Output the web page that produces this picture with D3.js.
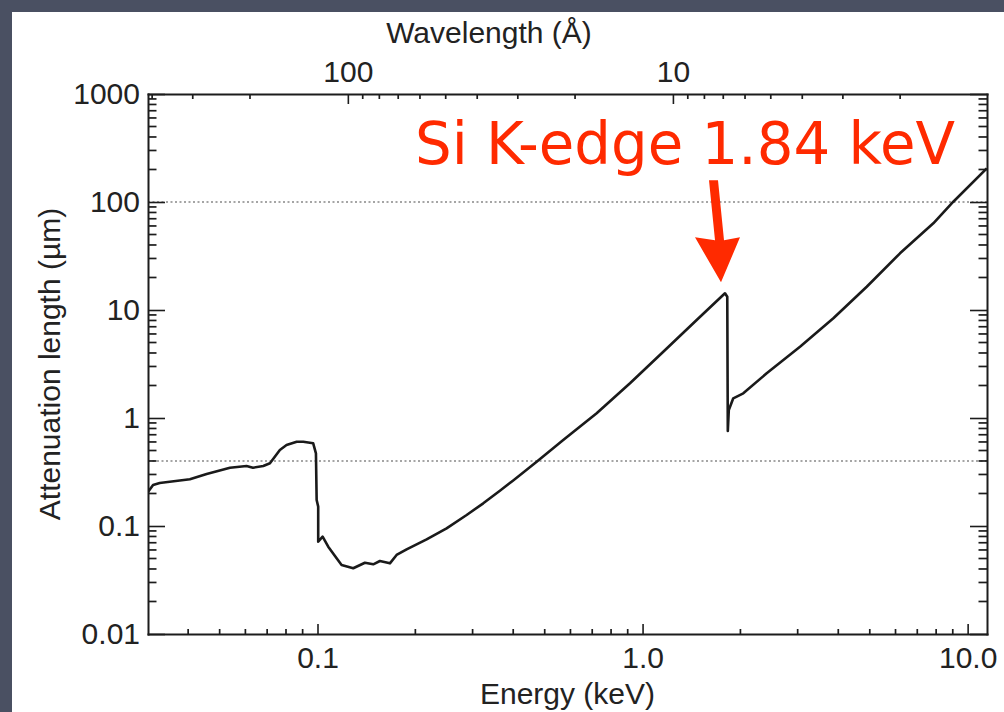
<!DOCTYPE html>
<html>
<head>
<meta charset="utf-8">
<script src="https://cdn.jsdelivr.net/npm/d3@7"></script>
<style>
  body { margin: 0; background: #4a5062; }
  svg { display: block; }
  .axis text { font-family: "Liberation Sans", Arial, sans-serif; font-size: 30px; fill: #222; }
  .axis path, .axis line { stroke: #1c1c1c; }
  .axis path { stroke-width: 2px; }
  .axis line { stroke-width: 1.6px; }
  .axisText { font-family: "Liberation Sans", Arial, sans-serif; font-size: 30px; fill: #222; }
</style>
</head>
<body>
<script>
// Si attenuation length vs photon energy
var energy = [0.0301, 0.0312, 0.0327, 0.0405, 0.0456, 0.0538, 0.0605, 0.0633, 0.0681, 0.0714,
  0.0766, 0.0803, 0.0863, 0.0904, 0.0970, 0.0989, 0.0994, 0.1005, 0.1005, 0.1037,
  0.1079, 0.1145, 0.1186, 0.1288, 0.1399, 0.1484, 0.1556, 0.1670, 0.1751, 0.188,
  0.2166, 0.2495, 0.2876, 0.3235, 0.364, 0.400, 0.4723, 0.570, 0.7224, 0.9148,
  1.158, 1.467, 1.793, 1.822, 1.829, 1.842, 1.901, 2.041, 2.409, 3.05,
  3.863, 4.893, 6.194, 7.843, 9.036, 11.45];
var attenuation = [0.2065, 0.2397, 0.250, 0.2706, 0.303, 0.3466, 0.3594, 0.3466, 0.3594, 0.3807,
  0.5055, 0.5623, 0.6033, 0.6033, 0.583, 0.471, 0.174, 0.151, 0.0716, 0.0796,
  0.0643, 0.0502, 0.0435, 0.0406, 0.0457, 0.0442, 0.0474, 0.0451, 0.0539, 0.0608,
  0.0753, 0.0952, 0.1264, 0.1622, 0.2123, 0.264, 0.3937, 0.6256, 1.105, 2.096,
  4.111, 8.08, 14.28, 13.28, 0.758, 1.186, 1.522, 1.693, 2.594, 4.573,
  8.38, 16.43, 33.5, 63.5, 100.6, 205];

var energyTicks = [0.1, 1, 10];
var energyLabels = ["0.1", "1.0", "10.0"];
var wavelengthTicks = [100, 10];
var wavelengthLabels = ["100", "10"];
var yTicks = [0.01, 0.1, 1, 10, 100, 1000];
var yLabels = ["0.01", "0.1", "1", "10", "100", "1000"];
var refLines = [100, 0.4];

var edgeLabel = "Si K-edge 1.84 keV";
var edgePeak = { e: 1.793, v: 14.28 };

var hc = 12.398; // keV * Angstrom

var svgWidth = 1004;
var svgHeight = 712;
var margin = { top: 94, right: 17, bottom: 78, left: 148 };
var width = svgWidth - margin.left - margin.right;
var height = svgHeight - margin.top - margin.bottom;

var svg = d3.select("body")
  .append("svg")
  .attr("width", svgWidth)
  .attr("height", svgHeight);

// white slide panel
svg.append("rect")
  .attr("x", 12).attr("y", 12)
  .attr("width", svgWidth - 12).attr("height", svgHeight - 12)
  .attr("fill", "#fff");

var chartGroup = svg.append("g")
  .attr("transform", `translate(${margin.left}, ${margin.top})`);

var xScale = d3.scaleLog().domain([0.0301, 11.47]).range([0, width]);
var yScale = d3.scaleLog().domain([0.01, 1000]).range([height, 0]);
var wlScale = d3.scaleLog().domain([hc / 0.0301, hc / 11.47]).range([0, width]);

// dotted reference lines
chartGroup.selectAll(".ref")
  .data(refLines)
  .enter()
  .append("line")
  .attr("x1", 0).attr("x2", width)
  .attr("y1", d => yScale(d)).attr("y2", d => yScale(d))
  .attr("stroke", "#888")
  .attr("stroke-width", 1.3)
  .attr("stroke-dasharray", "2,2.5");

// minor ticks from the scales' own tick generators (majors removed)
function isMajor(list) {
  return d => list.some(m => Math.abs(Math.log10(d) - Math.log10(m)) < 1e-6);
}
var xMinor = xScale.ticks().filter(d => !isMajor(energyTicks)(d));
var wlMinor = wlScale.ticks().filter(d => !isMajor(wavelengthTicks)(d));
var yMinor = yScale.ticks().filter(d => !isMajor(yTicks)(d));

chartGroup.selectAll(".xminor")
  .data(xMinor)
  .enter().append("line")
  .attr("x1", d => xScale(d)).attr("x2", d => xScale(d))
  .attr("y1", height).attr("y2", height - 5)
  .attr("stroke", "#1c1c1c").attr("stroke-width", 1.7);

chartGroup.selectAll(".wlminor")
  .data(wlMinor)
  .enter().append("line")
  .attr("x1", d => wlScale(d)).attr("x2", d => wlScale(d))
  .attr("y1", 0).attr("y2", 5)
  .attr("stroke", "#1c1c1c").attr("stroke-width", 1.7);

chartGroup.selectAll(".yminorL")
  .data(yMinor)
  .enter().append("line")
  .attr("x1", 0).attr("x2", 8.5)
  .attr("y1", d => yScale(d)).attr("y2", d => yScale(d))
  .attr("stroke", "#1c1c1c").attr("stroke-width", 1.7);

chartGroup.selectAll(".yminorR")
  .data(yMinor)
  .enter().append("line")
  .attr("x1", width).attr("x2", width - 8.5)
  .attr("y1", d => yScale(d)).attr("y2", d => yScale(d))
  .attr("stroke", "#1c1c1c").attr("stroke-width", 1.7);

// major ticks with labels
chartGroup.append("g").attr("class", "axis")
  .attr("transform", `translate(0, ${height})`)
  .call(d3.axisBottom(xScale).tickValues(energyTicks).tickSize(-10).tickSizeOuter(0).tickPadding(13)
    .tickFormat((d, i) => energyLabels[i]));
chartGroup.append("g").attr("class", "axis")
  .call(d3.axisTop(wlScale).tickValues(wavelengthTicks).tickSize(-10).tickSizeOuter(0).tickPadding(12)
    .tickFormat((d, i) => wavelengthLabels[i]));
chartGroup.append("g").attr("class", "axis")
  .call(d3.axisLeft(yScale).tickValues(yTicks).tickSize(-17).tickSizeOuter(0).tickPadding(8)
    .tickFormat((d, i) => yLabels[i]));
chartGroup.append("g").attr("class", "axis")
  .attr("transform", `translate(${width}, 0)`)
  .call(d3.axisRight(yScale).tickValues(yTicks).tickSize(-17).tickSizeOuter(0).tickFormat(""));

chartGroup.selectAll(".axis .domain").attr("stroke-linecap", "square");

// the curve
chartGroup.append("clipPath").attr("id", "clip")
  .append("rect").attr("width", width).attr("height", height);

var line = d3.line()
  .x((d, i) => xScale(energy[i]))
  .y(d => yScale(d));

chartGroup.append("path")
  .datum(attenuation)
  .attr("clip-path", "url(#clip)")
  .attr("d", line)
  .attr("fill", "none")
  .attr("stroke", "#1a1a1a")
  .attr("stroke-width", 2.6)
  .attr("stroke-linejoin", "round");

// axis titles
chartGroup.append("text")
  .attr("class", "axisText")
  .attr("x", width / 2)
  .attr("y", height + 70)
  .attr("text-anchor", "middle")
  .text("Energy (keV)");

chartGroup.append("text")
  .attr("class", "axisText")
  .attr("x", 341)
  .attr("y", -51)
  .attr("text-anchor", "middle")
  .text("Wavelength (Å)");

chartGroup.append("text")
  .attr("class", "axisText")
  .attr("transform", "rotate(-90)")
  .attr("x", -height / 2)
  .attr("y", -88)
  .attr("text-anchor", "middle")
  .text("Attenuation length (µm)");

// annotation
var tipX = xScale(edgePeak.e) - 4;
var tipY = yScale(edgePeak.v) - 11;
chartGroup.append("path")
  .attr("d", `M${tipX},${tipY} L${tipX - 26},${tipY - 45} L${tipX - 6},${tipY - 42}
    L${tipX - 12},${tipY - 102} L${tipX - 3},${tipY - 102} L${tipX + 3},${tipY - 42}
    L${tipX + 19},${tipY - 45} Z`)
  .attr("fill", "#ff2a00");

chartGroup.append("text")
  .attr("x", 267)
  .attr("y", 70)
  .attr("textLength", 540)
  .attr("lengthAdjust", "spacingAndGlyphs")
  .style("font-family", "'DejaVu Sans', sans-serif")
  .style("font-size", "58px")
  .attr("fill", "#ff2a00")
  .text(edgeLabel);
</script>
</body>
</html>
